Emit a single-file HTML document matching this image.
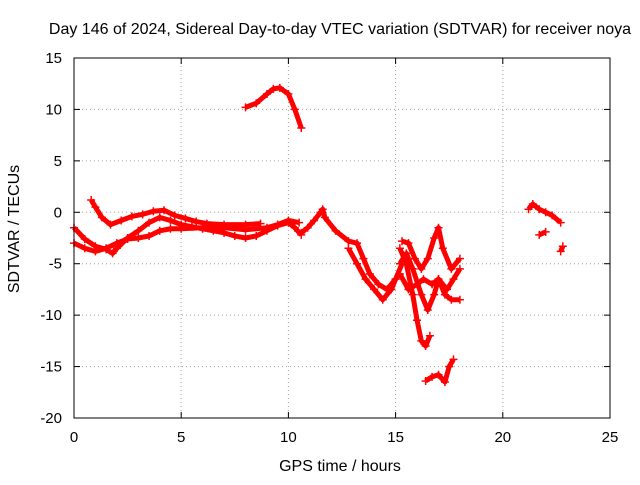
<!DOCTYPE html>
<html><head><meta charset="utf-8"><style>
body{margin:0;background:#fff}
svg text{font-family:"Liberation Sans",sans-serif;font-size:15px;fill:#000}
svg text.big{font-size:16px}
</style></head><body>
<svg id="chart" width="640" height="480" viewBox="0 0 640 480">
<rect width="640" height="480" fill="#fff"/>
<text class="big" x="340" y="34" text-anchor="middle">Day 146 of 2024, Sidereal Day-to-day VTEC variation (SDTVAR) for receiver noya</text>
<text class="big" transform="translate(19,229) rotate(-90)" text-anchor="middle">SDTVAR / TECUs</text>
<text class="big" x="340" y="471" text-anchor="middle">GPS time / hours</text>
<g id="grid"></g>
<g id="marks"></g>
<rect x="74" y="58" width="536" height="360" fill="none" stroke="#000" stroke-width="1"/>
</svg>
<script>
const xTicks=[0,5,10,15,20,25];
const yTicks=[15,10,5,0,-5,-10,-15,-20];
const trackA=[[8.0,10.2],[8.5,10.6],[9.0,11.5],[9.3,12.0],[9.6,12.1],[10.0,11.5],[10.3,10.0],[10.6,8.2]];
const trackB=[[0.8,1.2],[1.0,0.5],[1.3,-0.5],[1.7,-1.2],[2.2,-0.8],[2.7,-0.4],[3.2,-0.2],[3.7,0.1],[4.2,0.2],[4.7,-0.3],[5.2,-0.6],[5.7,-0.9],[6.2,-1.1],[7,-1.2],[8,-1.2],[8.7,-1.1]];
const trackC=[[0,-1.5],[0.5,-2.6],[1.0,-3.3],[1.5,-3.6],[1.8,-4.0],[2.0,-3.5],[2.5,-2.5],[3,-1.8],[3.5,-1.0],[4,-0.5],[4.5,-0.8],[5,-1.2],[5.5,-1.4],[6,-1.6],[6.5,-1.8],[7,-2.0],[7.5,-2.3],[8,-2.5],[8.5,-2.3],[9,-1.8],[9.5,-1.3],[10,-1.0],[10.3,-1.5],[10.6,-2.2]];
const trackD=[[0,-3.0],[0.5,-3.5],[1,-3.8],[1.5,-3.5],[2,-3.0],[2.5,-2.6],[3,-2.5],[3.5,-2.3],[4,-1.8],[4.5,-1.6],[5,-1.6],[6,-1.5],[7,-1.5],[8,-1.7],[9,-1.5],[9.5,-1.2],[10,-0.8],[10.5,-1.0]];
const trackE=[[10.6,-2.0],[10.9,-1.5],[11.2,-0.8],[11.5,0.0],[11.6,0.3],[11.7,-0.5],[12.2,-1.8],[12.8,-2.8],[13.2,-3.0],[13.5,-4.5],[13.8,-6.0],[14.2,-7.0],[14.6,-7.5],[15,-6.5],[15.3,-5.0]];
const trackF=[[12.8,-3.5],[13.2,-5],[13.6,-6.5],[14,-7.5],[14.4,-8.5],[14.8,-7.5],[15,-6.5]];
const trackG=[[15.2,-3.5],[15.5,-5],[15.8,-8],[16,-10.5],[16.2,-12.5],[16.4,-13],[16.6,-12]];
const trackH=[[15.3,-2.8],[15.6,-3.0],[15.9,-4.5],[16.2,-5.5],[16.5,-4.5],[16.8,-2.5],[17,-1.5],[17.2,-3.5],[17.6,-5.5],[18,-4.5]];
const trackI=[[15.2,-6],[15.6,-7.5],[16,-7.0],[16.3,-6.5],[16.7,-7],[17,-6.5],[17.4,-7.5],[17.7,-6.5],[18,-5.5]];
const trackJ=[[15.2,-5],[15.5,-4],[15.8,-5.5],[16.2,-8],[16.5,-9.5],[16.8,-8],[17,-6.5],[17.3,-8],[17.6,-8.5],[18,-8.5]];
const trackK=[[16.4,-16.4],[16.7,-16.0],[17,-15.8],[17.3,-16.5],[17.5,-15],[17.7,-14.3]];
const trackL=[[21.2,0.3],[21.4,0.8],[21.7,0.3],[22,0],[22.3,-0.3],[22.7,-1.0]];
const trackM=[[21.7,-2.2],[22,-1.9]];
const trackN=[[22.7,-3.8],[22.8,-3.3]];
const tracks=[trackA,trackB,trackC,trackD,trackE,trackF,trackG,trackH,trackI,trackJ,trackK,trackL,trackM,trackN];

const X0=74,X1=610,Y0=418,Y1=58;
const xs=v=>X0+(v-0)/(25-0)*(X1-X0);
const ys=v=>Y0-(v+20)/(35)*(Y0-Y1);
const NS='http://www.w3.org/2000/svg';
const svg=document.getElementById('chart');
const grid=document.getElementById('grid');
const marks=document.getElementById('marks');
function mk(t,a,p){const e=document.createElementNS(NS,t);for(const k in a)e.setAttribute(k,a[k]);p.appendChild(e);return e;}
xTicks.forEach(v=>{
  const x=xs(v);
  if(v>0&&v<25){const g=mk('line',{x1:x,x2:x,y1:Y1,y2:Y0,stroke:'#a0a0a0','stroke-dasharray':'1,3'},grid);
  
  }
  mk('line',{x1:x,x2:x,y1:Y0,y2:Y0-6,stroke:'#000'},grid);
  mk('line',{x1:x,x2:x,y1:Y1,y2:Y1+6,stroke:'#000'},grid);
  const t=mk('text',{x:x,y:Y0+24,'text-anchor':'middle'},svg);t.textContent=v;
  
  
});
yTicks.forEach(v=>{
  const y=ys(v);
  if(v>-20&&v<15){const g=mk('line',{x1:X0,x2:X1,y1:y,y2:y,stroke:'#a0a0a0','stroke-dasharray':'1,3'},grid);
  
  }
  mk('line',{x1:X0,x2:X0+6,y1:y,y2:y,stroke:'#000'},grid);
  mk('line',{x1:X1,x2:X1-6,y1:y,y2:y,stroke:'#000'},grid);
  const t=mk('text',{x:X0-12,y:y+5,'text-anchor':'end'},svg);t.textContent=v;
  
  
});
tracks.forEach(tr=>{
  const p=mk('polyline',{points:tr.map(d=>xs(d[0])+','+ys(d[1])).join(' '),fill:'none',stroke:'#f00','stroke-width':5,'stroke-linejoin':'round'},marks);
  
  
  tr.forEach(d=>{
    const x=xs(d[0]),y=ys(d[1]);
    const m=mk('path',{d:`M${x-4},${y}h8M${x},${y-4}v8`,stroke:'#f00','stroke-width':1.5},marks);
    
    
  });
});
</script>
</body></html>
